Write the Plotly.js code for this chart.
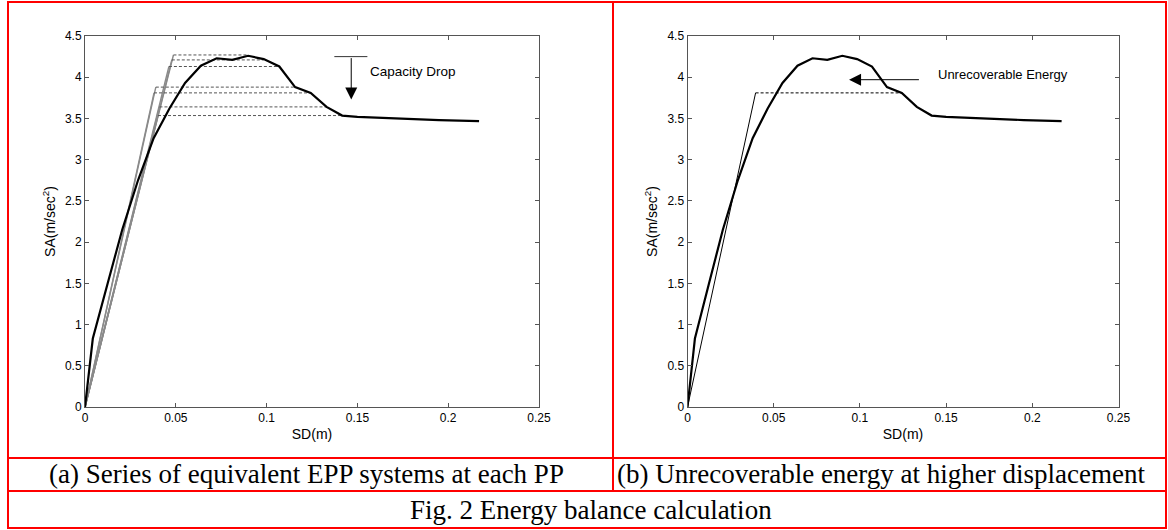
<!DOCTYPE html>
<html>
<head>
<meta charset="utf-8">
<script src="https://cdn.plot.ly/plotly-3.0.1.min.js"></script>
<style>
html,body{margin:0;padding:0;background:#fff;}
#chart{width:1168px;height:530px;}
</style>
</head>
<body>
<div id="chart"></div>
<script>
// Capacity curve (spectral displacement in m, spectral acceleration in m/s^2)
const sd = [0, 0.0043, 0.0125, 0.0205, 0.0292, 0.0378, 0.0465, 0.0551, 0.0638, 0.0725, 0.0811, 0.0898, 0.0984, 0.1070, 0.1157, 0.1243, 0.1330, 0.1416, 0.1500, 0.1650, 0.1800, 0.1950, 0.2170];
const sa = [0, 0.83, 1.50, 2.15, 2.75, 3.26, 3.62, 3.93, 4.14, 4.23, 4.21, 4.26, 4.22, 4.13, 3.88, 3.81, 3.64, 3.535, 3.52, 3.505, 3.49, 3.48, 3.467];

// (a) equivalent EPP systems: yield displacement, yield force, performance-point displacement
const eppYieldSd = [0.0487, 0.0478, 0.0462, 0.0390, 0.0380, 0.0410, 0.0402];
const eppForce   = [4.27, 4.21, 4.13, 3.88, 3.81, 3.64, 3.535];
const eppPpSd    = [0.0898, 0.0984, 0.1070, 0.1157, 0.1243, 0.1330, 0.1416];

// (b) single EPP system
const bYieldSd = [0.0395];
const bForce   = [3.81];
const bPpSd    = [0.1243];

const xTicks = [0, 0.05, 0.1, 0.15, 0.2, 0.25];
const yTicks = [0, 0.5, 1, 1.5, 2, 2.5, 3, 3.5, 4, 4.5];

const captionA = "(a) Series of equivalent EPP systems at each PP";
const captionB = "(b) Unrecoverable energy at higher displacement";
const figCaption = "Fig. 2 Energy balance calculation";

const traces = [];
const dashStyle = "3px,2px";

// (a) elastic branches
for (let i = 0; i < eppForce.length; i++) {
  traces.push({x:[0, eppYieldSd[i]], y:[0, eppForce[i]], xaxis:'x', yaxis:'y', mode:'lines',
    line:{color:'#8a8a8a', width:1.4}, hoverinfo:'skip'});
}
// (a) plastic branches
for (let i = 0; i < eppForce.length; i++) {
  traces.push({x:[eppYieldSd[i], eppPpSd[i]], y:[eppForce[i], eppForce[i]], xaxis:'x', yaxis:'y', mode:'lines',
    line:{color:'#555555', width:1, dash:dashStyle}, hoverinfo:'skip'});
}
traces.push({x:sd, y:sa, xaxis:'x', yaxis:'y', mode:'lines', line:{color:'#000', width:2.2}});

// (b)
for (let i = 0; i < bForce.length; i++) {
  traces.push({x:[0, bYieldSd[i]], y:[0, bForce[i]], xaxis:'x2', yaxis:'y2', mode:'lines',
    line:{color:'#000', width:1}});
  traces.push({x:[bYieldSd[i], bPpSd[i]], y:[bForce[i], bForce[i]], xaxis:'x2', yaxis:'y2', mode:'lines',
    line:{color:'#000', width:1, dash:dashStyle}});
}
traces.push({x:sd, y:sa, xaxis:'x2', yaxis:'y2', mode:'lines', line:{color:'#000', width:2.2}});

const tickFont = {family:'"Liberation Sans", Arial, sans-serif', size:12, color:'#000'};
const titleFont = {family:'"Liberation Sans", Arial, sans-serif', size:14, color:'#000'};

function xAxis(domain, anchor) {
  return {domain:domain, anchor:anchor, range:[0,0.25], tickvals:xTicks, ticktext:xTicks.map(String),
    ticks:'inside', ticklen:4, tickcolor:'#555', showline:true, linecolor:'#555', linewidth:1, mirror:'ticks',
    showgrid:false, zeroline:false, tickfont:tickFont,
    title:{text:'SD(m)', font:titleFont, standoff:4}};
}
function yAxis(domain, anchor) {
  return {domain:domain, anchor:anchor, range:[0,4.5], tickvals:yTicks, ticktext:yTicks.map(String),
    ticks:'inside', ticklen:4, tickcolor:'#555', showline:true, linecolor:'#555', linewidth:1, mirror:'ticks',
    showgrid:false, zeroline:false, tickfont:tickFont,
    title:{text:'SA(m/sec<sup>2</sup>)', font:titleFont, standoff:6}};
}

const W = 1168, H = 530;
const px = v => v / W;
const py = v => (H - v) / H;
const yDom = [py(407), py(36)];

const red = '#ff0000';
const shapes = [
  {type:'rect', xref:'paper', yref:'paper', x0:px(8), x1:px(1166), y0:py(528), y1:py(2), line:{color:red, width:2}},
  {type:'line', xref:'paper', yref:'paper', x0:px(613), x1:px(613), y0:py(491), y1:py(2), line:{color:red, width:2}},
  {type:'line', xref:'paper', yref:'paper', x0:px(8), x1:px(1166), y0:py(458), y1:py(458), line:{color:red, width:2}},
  {type:'line', xref:'paper', yref:'paper', x0:px(8), x1:px(1166), y0:py(491), y1:py(491), line:{color:red, width:2}},
  // Capacity drop bar
  {type:'line', xref:'x', yref:'y', x0:0.1373, x1:0.1555, y0:4.25, y1:4.25, line:{color:'#333', width:1}}
];

const annFont = {family:'"Liberation Sans", Arial, sans-serif', size:13.5, color:'#000'};
const capFont = {family:'"Liberation Serif", "Times New Roman", serif', size:27, color:'#000'};
const annotations = [
  {xref:'x', yref:'y', x:0.1466, y:3.73, ax:0.1466, ay:4.25, axref:'x', ayref:'y', text:'', showarrow:true,
    arrowhead:2, arrowsize:2.4, arrowwidth:1, arrowcolor:'#000'},
  {xref:'x', yref:'y', x:0.156, y:4.07, text:'Capacity Drop', showarrow:false, xanchor:'left', yanchor:'middle', font:annFont},
  {xref:'x2', yref:'y2', x:0.0937, y:3.97, ax:0.1351, ay:3.97, axref:'x2', ayref:'y2', text:'', showarrow:true,
    arrowhead:2, arrowsize:2.4, arrowwidth:1, arrowcolor:'#000'},
  {xref:'x2', yref:'y2', x:0.1444, y:4.03, text:'Unrecoverable Energy', showarrow:false, xanchor:'left', yanchor:'middle', font:{family:annFont.family, size:13, color:'#000'}},
  {xref:'paper', yref:'paper', x:px(306), y:py(474), text:captionA, showarrow:false, xanchor:'center', yanchor:'middle', font:capFont},
  {xref:'paper', yref:'paper', x:px(881), y:py(474), text:captionB, showarrow:false, xanchor:'center', yanchor:'middle', font:capFont},
  {xref:'paper', yref:'paper', x:px(591), y:py(510), text:figCaption, showarrow:false, xanchor:'center', yanchor:'middle', font:capFont}
];

const layout = {
  width:W, height:H, margin:{l:0, r:0, t:0, b:0}, paper_bgcolor:'#fff', plot_bgcolor:'#fff',
  showlegend:false,
  xaxis: xAxis([px(85), px(539)], 'y'),
  yaxis: yAxis(yDom, 'x'),
  xaxis2: xAxis([px(687.5), px(1118.5)], 'y2'),
  yaxis2: yAxis(yDom, 'x2'),
  shapes:shapes, annotations:annotations
};

Plotly.newPlot('chart', traces, layout, {displayModeBar:false, staticPlot:true});
</script>
</body>
</html>
